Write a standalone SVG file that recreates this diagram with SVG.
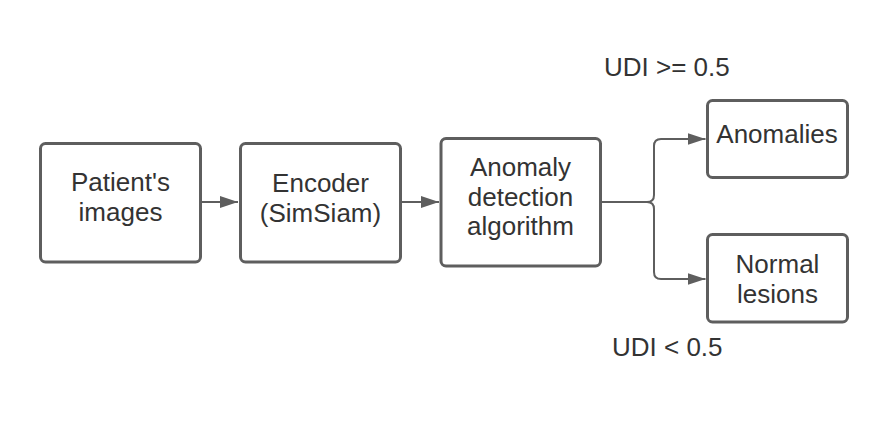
<svg xmlns="http://www.w3.org/2000/svg" width="888" height="423" viewBox="0 0 888 423">
<defs>
<style>
.box{fill:#ffffff;stroke:#5e5e5e;stroke-width:3}
.t{font-family:"Liberation Sans",Arial,sans-serif;font-size:26px;fill:#333333;text-anchor:middle}
.lbl{font-family:"Liberation Sans",Arial,sans-serif;font-size:26px;fill:#333333}
.con{fill:none;stroke:#5e5e5e;stroke-width:2}
</style>
<marker id="arr" markerUnits="userSpaceOnUse" markerWidth="19" markerHeight="12" refX="18" refY="6" orient="auto">
<path d="M0,0 L18,6 L0,12 z" fill="#5e5e5e"/>
</marker>
</defs>
<rect width="888" height="423" fill="#ffffff"/>
<g id="connectors">
<path class="con" d="M201.5,202 H238" marker-end="url(#arr)"/>
<path class="con" d="M401.5,202 H439" marker-end="url(#arr)"/>
<path class="con" d="M601.5,202 H647 Q654,202 654,195 V146 Q654,139 661,139 H705.5" marker-end="url(#arr)"/>
<path class="con" d="M647,202 Q654,202 654,209 V272 Q654,279 661,279 H705.5" marker-end="url(#arr)"/>
</g>
<g id="patients-images">
<rect class="box" x="40.5" y="143.5" width="160" height="118.5" rx="5"/>
<text class="t" x="120.5" y="191">Patient's</text>
<text class="t" x="120.5" y="220.5">images</text>
</g>
<g id="encoder">
<rect class="box" x="240.5" y="143.5" width="160" height="118.5" rx="5"/>
<text class="t" x="320.5" y="191.5">Encoder</text>
<text class="t" x="320.5" y="221.5">(SimSiam)</text>
</g>
<g id="anomaly-detection">
<rect class="box" x="441" y="138.5" width="159.5" height="127.5" rx="5"/>
<text class="t" x="520.5" y="176">Anomaly</text>
<text class="t" x="520.5" y="205.5">detection</text>
<text class="t" x="520.5" y="235">algorithm</text>
</g>
<g id="anomalies">
<rect class="box" x="707.5" y="100.5" width="140" height="77" rx="5"/>
<text class="t" x="777" y="142.7">Anomalies</text>
</g>
<g id="normal-lesions">
<rect class="box" x="707.5" y="234.5" width="140" height="87.5" rx="5"/>
<text class="t" x="777.5" y="272.7">Normal</text>
<text class="t" x="777.5" y="302.7">lesions</text>
</g>
<g id="labels">
<text class="lbl" x="604" y="76">UDI &gt;= 0.5</text>
<text class="lbl" x="612" y="356">UDI &lt; 0.5</text>
</g>
</svg>
